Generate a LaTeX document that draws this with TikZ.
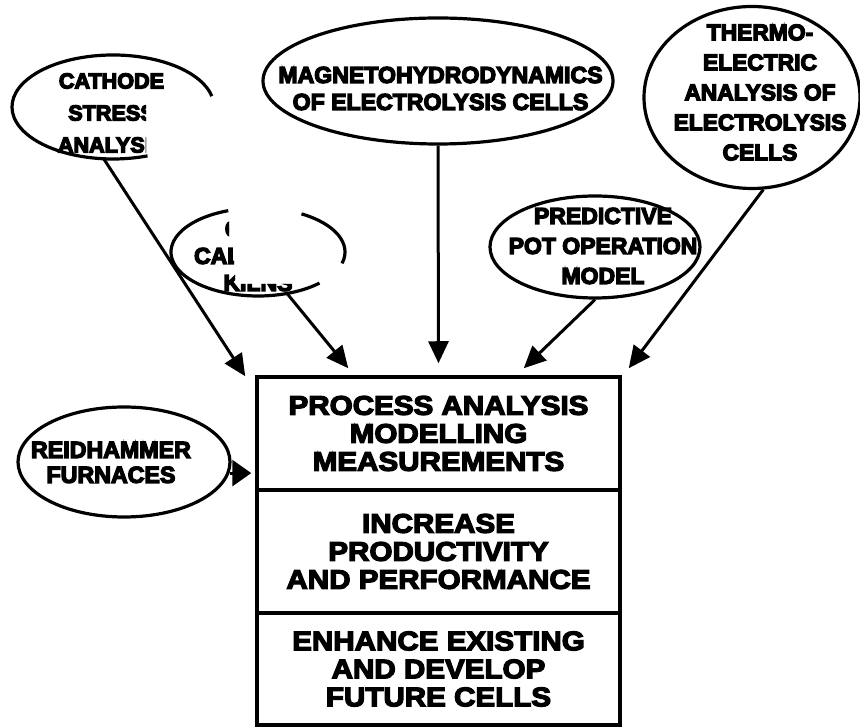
\documentclass[tikz,border=0pt]{standalone}
\usepackage{fontspec}
\newfontfamily\heavy{Liberation Sans Bold}
\newfontfamily\heavywide{Liberation Sans Bold}[FakeStretch=1.1]
% fill and stroke the glyphs so the lettering comes out extra heavy
\newcommand\thickglyphs{\special{pdf:literal direct 2 Tr 1.3 w 0 G}}
\usetikzlibrary{shapes.geometric,arrows.meta,calc}

\begin{document}
\begin{tikzpicture}[x=1pt,y=1pt,
  ring/.style={ellipse, draw, line width=3.2pt, inner sep=0pt},
  ghost/.style={ellipse, draw=none, inner sep=0pt},
  outline/.style={line width=3.2pt},
  conn/.style={line width=3pt, -{Triangle[length=22pt,width=20pt]}},
  wideconn/.style={line width=3pt, -{Triangle[length=19pt,width=26pt]}},
  caption/.style 2 args={align=center, inner sep=0pt,
    font=\heavy\fontsize{#1}{#2}\selectfont\thickglyphs},
  panel/.style={draw, line width=3.5pt, minimum width=363pt, align=center,
    inner sep=0pt, font=\heavywide\fontsize{26.9}{28}\selectfont\thickglyphs}]

% canvas
\fill[white] (0,0) rectangle (860,728);
\useasboundingbox (0,0) rectangle (860,728);

% central stacked box
\node[panel, minimum height=113pt] (pam) at (438.5,294.5)
  {PROCESS ANALYSIS\\MODELLING\\MEASUREMENTS};
\node[panel, minimum height=123pt] (ipp) at (438.5,176.5)
  {INCREASE\\PRODUCTIVITY\\AND PERFORMANCE};
\node[panel, minimum height=112pt] (edc) at (438.5,59)
  {ENHANCE EXISTING\\AND DEVELOP\\FUTURE CELLS};

% complete ellipses
\node[ring, minimum width=350pt, minimum height=126pt] (mhd) at (438,647) {};
\node[caption={23.1}{27}] (mhdtext) at (440.5,639.5)
  {MAGNETOHYDRODYNAMICS\\OF ELECTROLYSIS CELLS};

\node[ring, minimum width=216pt, minimum height=182pt] (thermo) at (752,630.5) {};
\node[caption={22.8}{30}] (thermotext) at (760,635.5)
  {THERMO-\\ELECTRIC\\ANALYSIS OF\\ELECTROLYSIS\\CELLS};

\node[ring, minimum width=210pt, minimum height=102pt] (pred) at (595,481) {};
\node[caption={23}{30}] (predtext) at (603,482)
  {PREDICTIVE\\POT OPERATION\\MODEL};

\node[ring, minimum width=212pt, minimum height=110pt] (reid) at (124,266) {};
\node[caption={23.2}{25}] (reidtext) at (111,265.5) {REIDHAMMER\\FURNACES};

% ellipses with broken outlines
\node[ghost, minimum width=202pt, minimum height=104pt] (cath) at (113,621) {};
\draw[outline] (cath.center) ++(12:101pt and 52pt)
  arc[start angle=12, end angle=290, x radius=101pt, y radius=52pt];
\begin{scope}
  \clip (0,728) -- (860,728) -- (860,632) -- (146,632) -- (146,0) -- (0,0) -- cycle;
  \node[caption={21.6}{32}] (cathtext) at (111.5,615) {CATHODE\\STRESS\\ANALYSIS};
\end{scope}

\node[ghost, minimum width=174pt, minimum height=88pt] (coke) at (258,476) {};
\draw[outline] (coke.center) ++(110:87pt and 44pt)
  arc[start angle=110, end angle=315, x radius=87pt, y radius=44pt];
\draw[outline] (coke.center) ++(-15:87pt and 44pt)
  arc[start angle=-15, end angle=60, x radius=87pt, y radius=44pt];
\begin{scope}
  \clip (150,528) -- (229,528) -- (229,483) -- (234,483) -- (234,457) -- (235,457)
    -- (235,444) -- (295,444) -- (295,428) -- (150,428) -- cycle;
  \node[caption={23}{27}] (coketext) at (258,472) {COKE\\CALCINING\\KILNS};
\end{scope}

% connectors into the box
\draw[conn] (cath.-100) -- ($(pam.north west)+(-10,-1)$);
\draw[conn] (coke.-55) -- ($(pam.north west)+(93,7)$);
\draw[conn] (mhd.south) -- ($(pam.north)+(0,12)$);
\draw[conn] (pred.south) -- ($(pam.north east)+(-98,7)$);
\draw[conn] (thermo.-83) -- ($(pam.north east)+(7,7)$);
\draw[wideconn] (reid.-6) -- ($(reid.-6 -| pam.west)+(-4,0)$);
\end{tikzpicture}
\end{document}
